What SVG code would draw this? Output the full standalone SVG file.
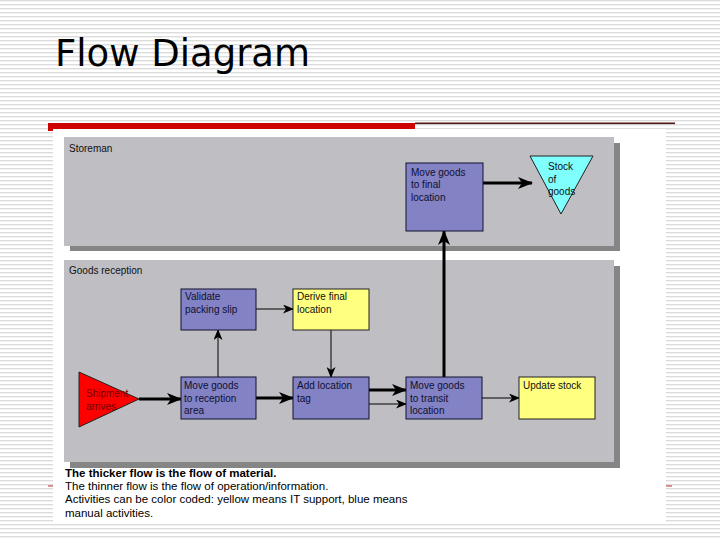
<svg xmlns="http://www.w3.org/2000/svg" width="720" height="540" viewBox="0 0 720 540">
<defs>
<pattern id="stripes" x="0" y="0" width="8" height="4" patternUnits="userSpaceOnUse">
<rect x="0" y="0" width="8" height="4" fill="#ffffff"/>
<rect x="0" y="0" width="8" height="1.4" fill="#dcdcdc"/>
</pattern>
<marker id="thick" markerUnits="userSpaceOnUse" markerWidth="15" markerHeight="12" refX="14" refY="6" orient="auto">
<path d="M0,0 L15,6 L0,12 L4,6 Z" fill="#000"/>
</marker>
<marker id="thin" markerUnits="userSpaceOnUse" markerWidth="11" markerHeight="9" refX="10" refY="4.5" orient="auto">
<path d="M0,0 L11,4.5 L0,9 L3,4.5 Z" fill="#000"/>
</marker>
<style>
.t{font-family:"Liberation Sans",Arial,sans-serif;font-size:10px;fill:#101030}
.lab{font-family:"Liberation Sans",Arial,sans-serif;font-size:10px;fill:#101010}
.red{fill:#700000}
.blue{fill:#8282c4;stroke:#101030;stroke-width:1}
.yel{fill:#ffff80;stroke:#202020;stroke-width:1}
.panel{fill:#bfbec2}
.shadow{fill:#858585}
.thk{stroke:#000;stroke-width:3;fill:none;marker-end:url(#thick)}
.thn{stroke:#000;stroke-width:1;fill:none;marker-end:url(#thin)}
.note{font-family:"Liberation Sans",Arial,sans-serif;font-size:11.5px;fill:#000}
</style>
</defs>
<rect width="720" height="540" fill="url(#stripes)"/>
<text x="55" y="66" font-family="'DejaVu Sans',Verdana,sans-serif" font-size="37" fill="#000">Flow Diagram</text>
<line x1="48" y1="486" x2="672" y2="486" stroke="#b03030" stroke-width="1.2"/>
<rect x="415" y="122.5" width="260" height="1.6" fill="#501818"/>
<rect x="48" y="123" width="367" height="8" fill="#cc0000"/>
<rect x="53" y="129" width="613" height="394" fill="#ffffff"/>

<g id="panel-storeman">
<rect class="shadow" x="70" y="143" width="550" height="108"/>
<rect class="panel" x="64" y="137" width="550" height="109"/>
<text class="lab" x="69" y="152">Storeman</text>
</g>
<g id="panel-reception">
<rect class="shadow" x="70" y="266" width="550" height="202"/>
<rect class="panel" x="64" y="260" width="550" height="202"/>
<text class="lab" x="69" y="274">Goods reception</text>
</g>

<g id="connectors">
<line class="thk" x1="139" y1="399" x2="181" y2="399"/>
<line class="thn" x1="218" y1="377" x2="218" y2="330"/>
<line class="thn" x1="256" y1="309" x2="293" y2="309"/>
<line class="thn" x1="331" y1="330" x2="331" y2="377"/>
<line class="thk" x1="256" y1="398" x2="293" y2="398"/>
<line class="thk" x1="369" y1="390" x2="406" y2="390"/>
<line class="thn" x1="369" y1="404" x2="406" y2="404"/>
<line class="thn" x1="482" y1="398" x2="519" y2="398"/>
<line class="thk" x1="444" y1="377" x2="444" y2="231"/>
<line class="thk" x1="483" y1="183" x2="532" y2="183"/>
</g>

<g id="move-final">
<rect class="blue" x="406" y="163" width="77" height="68"/>
<text class="t" x="411" y="176">Move goods</text>
<text class="t" x="411" y="188">to final</text>
<text class="t" x="411" y="201">location</text>
</g>
<g id="stock">
<polygon points="530,156 593,156 561,214" fill="#80ffff" stroke="#202020" stroke-width="1"/>
<text class="lab" x="548" y="170">Stock</text>
<text class="lab" x="548" y="183">of</text>
<text class="lab" x="548" y="195">goods</text>
</g>
<g id="validate">
<rect class="blue" x="181" y="289" width="75" height="41"/>
<text class="t" x="185" y="300">Validate</text>
<text class="t" x="185" y="313">packing slip</text>
</g>
<g id="derive">
<rect class="yel" x="293" y="289" width="76" height="41"/>
<text class="lab" x="297" y="300">Derive final</text>
<text class="lab" x="297" y="313">location</text>
</g>
<g id="shipment">
<polygon points="79,372 139,399 79,427" fill="#ff0000" stroke="#202020" stroke-width="1"/>
<text class="lab red" x="86" y="397">Shipment</text>
<text class="lab red" x="86" y="410">arrives</text>
</g>
<g id="move-reception">
<rect class="blue" x="181" y="377" width="75" height="42"/>
<text class="t" x="184" y="389">Move goods</text>
<text class="t" x="184" y="402">to reception</text>
<text class="t" x="184" y="414">area</text>
</g>
<g id="add-tag">
<rect class="blue" x="293" y="377" width="76" height="42"/>
<text class="t" x="297" y="389">Add location</text>
<text class="t" x="297" y="402">tag</text>
</g>
<g id="move-transit">
<rect class="blue" x="406" y="377" width="76" height="42"/>
<text class="t" x="410" y="389">Move goods</text>
<text class="t" x="410" y="402">to transit</text>
<text class="t" x="410" y="414">location</text>
</g>
<g id="update-stock">
<rect class="yel" x="519" y="377" width="76" height="42"/>
<text class="lab" x="523" y="389">Update stock</text>
</g>

<g id="notes">
<text class="note" x="65" y="477" font-weight="bold">The thicker flow is the flow of material.</text>
<text class="note" x="65" y="490">The thinner flow is the flow of operation/information.</text>
<text class="note" x="65" y="503">Activities can be color coded: yellow means IT support, blue means</text>
<text class="note" x="65" y="517">manual activities.</text>
</g>
</svg>
